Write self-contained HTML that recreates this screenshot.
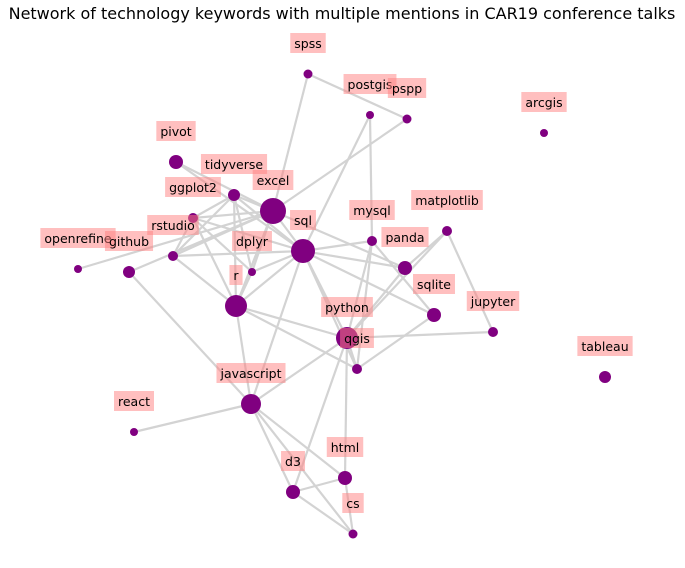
<!DOCTYPE html>
<html><head><meta charset="utf-8"><style>
html,body{margin:0;padding:0;background:#fff;width:685px;height:568px;overflow:hidden}
text{font-family:"DejaVu Sans","Liberation Sans",sans-serif}
</style></head><body>
<svg id="chart" width="685" height="568">
<text x="342" y="19" text-anchor="middle" font-size="16" fill="#000">Network of technology keywords with multiple mentions in CAR19 conference talks</text>
<g id="edges"></g><g id="nodes"></g><g id="labels"></g>
</svg>
<script>
const names = ["spss","postgis","pspp","arcgis","pivot","tidyverse","ggplot2","excel","sql","rstudio","openrefine","github","dplyr","mysql","matplotlib","panda","r","sqlite","python","jupyter","qgis","tableau","javascript","react","html","d3","cs"];
const nodeX = [308,370,407,544,176,234,193,273,303,173,78,129,252,372,447,405,236,434,347,493,357,605,251,134,345,293,353];
const nodeY = [74,115,119,133,162,195,218,211,251,256,269,272,272,241,231,268,306,315,338,332,369,377,404,432,478,492,534];
const mentions = [4.5,4,4.5,4,7,6,5,13,12,5,4,6,4,5,5,7,11,7,11,5,5,6,10,4,7,7,4.5];
const edgeList = [
["spss","excel"],["spss","pspp"],["postgis","mysql"],["postgis","sql"],["pspp","excel"],
["excel","tidyverse"],["excel","pivot"],["excel","ggplot2"],["excel","rstudio"],["excel","github"],["excel","r"],["excel","dplyr"],["excel","sql"],["excel","panda"],["excel","openrefine"],
["sql","pivot"],["sql","tidyverse"],["sql","ggplot2"],["sql","rstudio"],["sql","r"],["sql","dplyr"],["sql","mysql"],["sql","panda"],["sql","sqlite"],["sql","python"],["sql","qgis"],["sql","javascript"],
["r","ggplot2"],["r","tidyverse"],["r","rstudio"],["r","qgis"],["r","python"],["r","javascript"],["r","dplyr"],
["tidyverse","ggplot2"],["tidyverse","rstudio"],["tidyverse","dplyr"],["ggplot2","rstudio"],["ggplot2","dplyr"],
["python","qgis"],["python","mysql"],["python","jupyter"],["python","panda"],["python","matplotlib"],["python","javascript"],["python","html"],["python","d3"],
["qgis","mysql"],["qgis","sqlite"],["mysql","sqlite"],["matplotlib","jupyter"],["matplotlib","panda"],
["javascript","react"],["javascript","github"],["javascript","d3"],["javascript","html"],["javascript","cs"],
["html","cs"],["html","d3"],["d3","cs"]
];
const NS="http://www.w3.org/2000/svg";
const idx=n=>names.indexOf(n);
const eg=document.getElementById('edges'),ng=document.getElementById('nodes'),lg=document.getElementById('labels');
edgeList.forEach(e=>{
  const a=idx(e[0]),b=idx(e[1]);
  const l=document.createElementNS(NS,'line');
  l.setAttribute('x1',nodeX[a]);l.setAttribute('y1',nodeY[a]);l.setAttribute('x2',nodeX[b]);l.setAttribute('y2',nodeY[b]);
  l.setAttribute('stroke','#d3d3d3');l.setAttribute('stroke-width','2.2');
  
  
  eg.appendChild(l);
});
names.forEach((n,i)=>{
  const c=document.createElementNS(NS,'circle');
  c.setAttribute('cx',nodeX[i]);c.setAttribute('cy',nodeY[i]);c.setAttribute('r',mentions[i]);
  c.setAttribute('fill','#800080');
  
  
  ng.appendChild(c);
});
names.forEach((n,i)=>{
  const t=document.createElementNS(NS,'text');
  t.setAttribute('x',nodeX[i]);t.setAttribute('y',nodeY[i]-26);
  t.setAttribute('text-anchor','middle');t.setAttribute('font-size','12.5');t.setAttribute('fill','#000');
  t.textContent=n;
  
  
  lg.appendChild(t);
  const w=t.getComputedTextLength();
  const r=document.createElementNS(NS,'rect');
  r.setAttribute('x',nodeX[i]-w/2-4);r.setAttribute('y',nodeY[i]-41);
  r.setAttribute('width',w+8);r.setAttribute('height',20);
  r.setAttribute('fill','#ff8080');r.setAttribute('fill-opacity','0.5');
  
  
  lg.insertBefore(r,t);
});
</script>
</body></html>
